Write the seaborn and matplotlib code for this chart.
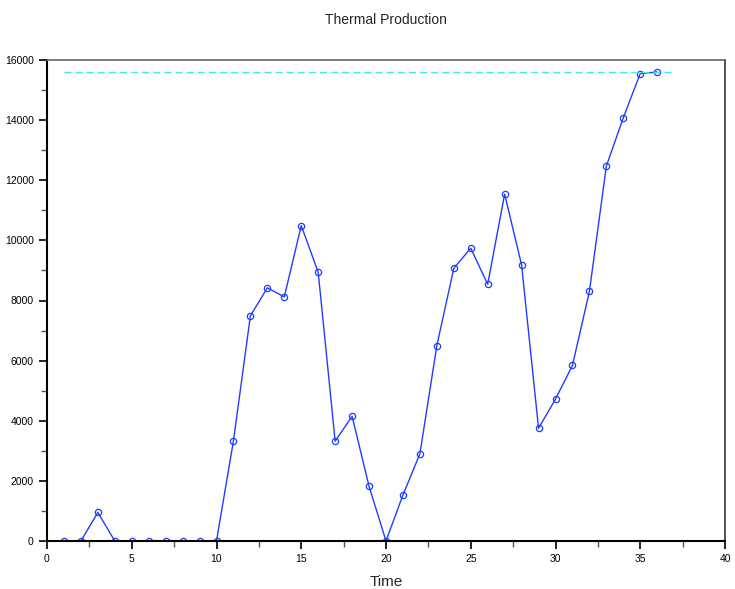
import numpy as np
import pandas as pd
import matplotlib
matplotlib.use('Agg')
import matplotlib.pyplot as plt
import seaborn as sns
from matplotlib.ticker import MultipleLocator

# Данные
time = list(range(1, 37))
production = [0, 0, 950, 0, 0, 0, 0, 0, 0, 0,
              3330, 7490, 8420, 8120, 10490, 8940, 3320, 4150, 1820, 0,
              1530, 2900, 6500, 9070, 9740, 8540, 11540, 9180, 3750, 4720,
              5840, 8300, 12470, 14080, 15550, 15600]
max_start, max_end = 1, 37

df = pd.DataFrame({'Time': time, 'Production': production})
max_level = df['Production'].max()

sns.set_style('white')
plt.rcParams['font.family'] = ['Liberation Sans', 'DejaVu Sans']

fig = plt.figure(figsize=(7.35, 5.89), dpi=100)
ax = fig.add_axes([47 / 735, 1 - 541 / 589, 678 / 735, 481 / 589])

sns.lineplot(data=df, x='Time', y='Production', ax=ax, color='#1f3dff',
             linewidth=1.0, marker='o', markersize=4.5,
             markerfacecolor='none', markeredgecolor='#1f3dff',
             markeredgewidth=0.9)
ax.plot([max_start, max_end], [max_level, max_level], linestyle='--',
        color='#40e8f0', linewidth=1.0, dashes=(5, 3))

ax.set_xlim(0, 40)
ax.set_ylim(0, 16000)
ax.xaxis.set_major_locator(MultipleLocator(5))
ax.xaxis.set_minor_locator(MultipleLocator(2.5))
ax.yaxis.set_major_locator(MultipleLocator(2000))
ax.yaxis.set_minor_locator(MultipleLocator(1000))
ax.tick_params(which='major', direction='out', length=6, width=1.2,
               labelsize=7.5, colors='black', left=True, bottom=True)
ax.tick_params(which='minor', direction='out', length=4.5, width=1.0,
               color='#555555', left=True, bottom=True)

for side in ['left', 'bottom']:
    ax.spines[side].set_color('black')
    ax.spines[side].set_linewidth(1.5)
ax.spines['top'].set_color('#666666')
ax.spines['right'].set_color('#333333')
ax.spines['top'].set_linewidth(1.2)
ax.spines['right'].set_linewidth(1.2)

ax.set_title('Thermal Production', fontsize=10, pad=26)
ax.set_xlabel('Time', fontsize=11, labelpad=8)
ax.set_ylabel('')

fig.savefig('out.png', dpi=100)
